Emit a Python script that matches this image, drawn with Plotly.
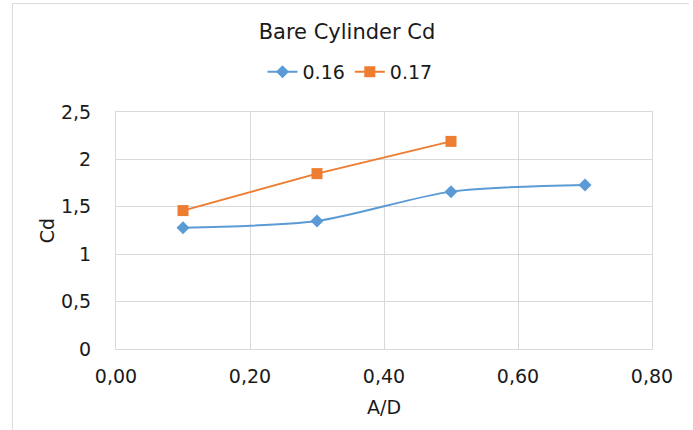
import plotly.graph_objects as go

# Bare cylinder drag coefficient against amplitude ratio
ad_016 = [0.1, 0.3, 0.5, 0.7]
cd_016 = [1.28, 1.35, 1.66, 1.73]

ad_017 = [0.1, 0.3, 0.5]
cd_017 = [1.46, 1.85, 2.19]

x_ticks = [0.0, 0.2, 0.4, 0.6, 0.8]
y_ticks = [0, 0.5, 1, 1.5, 2, 2.5]

W, H = 693, 430
ML, MR, MT, MB = 116, 41, 112, 81
PW, PH = W - ML - MR, H - MT - MB

FONT = "DejaVu Sans"
TXT = "#1a1a1a"
GRID = "#d9d9d9"


def px_x(v):
    return (v - ML) / PW


def px_y(v):
    return (H - MB - v) / PH


fig = go.Figure()
fig.add_trace(go.Scatter(
    x=ad_016, y=cd_016, name="0.16", mode="lines+markers",
    line=dict(color="#5B9BD5", width=2, shape="spline", smoothing=0.8),
    marker=dict(symbol="diamond", size=10, color="#5B9BD5"),
))
fig.add_trace(go.Scatter(
    x=ad_017, y=cd_017, name="0.17", mode="lines+markers",
    line=dict(color="#ED7D31", width=2),
    marker=dict(symbol="square", size=11, color="#ED7D31"),
))

# outer chart frame (top and left edges)
fig.add_shape(type="line", xref="paper", yref="paper",
              x0=px_x(12), x1=px_x(689), y0=px_y(3.5), y1=px_y(3.5),
              line=dict(color="#dcdcdc", width=1))
fig.add_shape(type="line", xref="paper", yref="paper",
              x0=px_x(12.5), x1=px_x(12.5), y0=px_y(3.5), y1=px_y(430),
              line=dict(color="#dcdcdc", width=1))

fig.update_layout(
    width=W, height=H,
    margin=dict(l=ML, r=MR, t=MT, b=MB),
    paper_bgcolor="white", plot_bgcolor="white",
    separators=",.",
    font=dict(family=FONT, color=TXT),
    title=dict(text="Bare Cylinder Cd", x=347 / W, xanchor="center",
               y=1 - 32 / H, yanchor="middle",
               font=dict(family=FONT, size=21, color=TXT)),
    legend=dict(orientation="h", x=px_x(350), xanchor="center",
                y=px_y(72), yanchor="middle",
                font=dict(family=FONT, size=19, color=TXT),
                itemwidth=30, tracegroupgap=0),
    showlegend=True,
)
fig.update_xaxes(
    range=[0, 0.8], tickvals=x_ticks, tickformat=".2f",
    showgrid=True, gridcolor=GRID, gridwidth=1,
    showline=True, mirror=True, linecolor=GRID, linewidth=1,
    zeroline=False, ticks="outside", ticklen=10, tickcolor="white",
    tickfont=dict(family=FONT, size=19, color=TXT),
    title=dict(text="A/D", font=dict(family=FONT, size=19, color=TXT),
               standoff=14),
)
fig.update_yaxes(
    range=[0, 2.5], tickvals=y_ticks,
    showgrid=True, gridcolor=GRID, gridwidth=1,
    showline=True, mirror=True, linecolor=GRID, linewidth=1,
    zeroline=False, ticks="outside", ticklen=20, tickcolor="white",
    tickfont=dict(family=FONT, size=19, color=TXT),
    title=dict(text="Cd", font=dict(family=FONT, size=19, color=TXT),
               standoff=1),
)

fig.write_html("out.html")
